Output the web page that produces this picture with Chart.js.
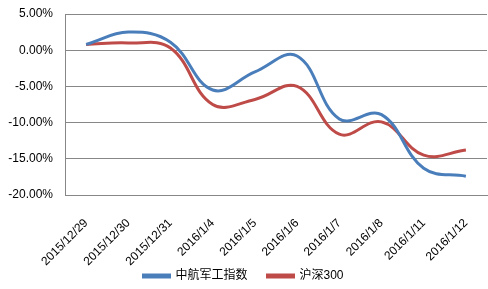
<!DOCTYPE html>
<html>
<head>
<meta charset="utf-8">
<script src="https://cdn.jsdelivr.net/npm/chart.js@4/dist/chart.umd.min.js"></script>
<style>
html,body{margin:0;padding:0;background:#fff;}
#wrap{width:488px;height:289px;position:relative;}
</style>
</head>
<body>
<div id="wrap"><canvas id="c" width="488" height="289"></canvas></div>
<script>
const categories = ['2015/12/29','2015/12/30','2015/12/31','2016/1/4','2016/1/5','2016/1/6','2016/1/7','2016/1/8','2016/1/11','2016/1/12'];
const avicMilitary = [0.8, 2.5, 1.1, -5.5, -3.0, -0.8, -9.5, -8.9, -16.3, -17.4];
const csi300 = [0.8, 1.0, 0.3, -7.5, -6.8, -5.0, -11.6, -9.9, -14.5, -13.8];
const yTicks = [5, 0, -5, -10, -15, -20];

const FONT = "'Liberation Sans', Arial, 'Noto Sans CJK SC', sans-serif";
Chart.defaults.font.family = FONT;
Chart.defaults.color = '#000';

new Chart(document.getElementById('c'), {
  type: 'line',
  data: {
    labels: categories,
    datasets: [
      {label: '中航军工指数', data: avicMilitary, borderColor: '#4A7EBB', backgroundColor: '#4A7EBB', borderWidth: 3, pointRadius: 0, tension: 0.4, fill: false},
      {label: '沪深300', data: csi300, borderColor: '#BE4B48', backgroundColor: '#BE4B48', borderWidth: 3, pointRadius: 0, tension: 0.4, fill: false}
    ]
  },
  options: {
    responsive: false,
    animation: false,
    layout: {padding: {top: 14, right: 1, left: 0, bottom: 0}},
    plugins: {
      tooltip: {enabled: false},
      legend: {
        position: 'bottom',
        maxHeight: 39,
        labels: {boxWidth: 26, boxHeight: 2, padding: 20, font: {size: 12, family: FONT}, color: '#000'}
      }
    },
    scales: {
      x: {
        offset: true,
        grid: {display: false, drawTicks: false},
        border: {display: true, color: '#878787'},
        ticks: {minRotation: 45, maxRotation: 45, autoSkip: false, padding: 21, font: {size: 12}},
        afterFit: (s) => {
          s.height = 55; s.paddingLeft = 0; s.paddingRight = 0; s.paddingTop = 0; s.paddingBottom = 0;
          s._computeLabelArea = () => undefined;
        }
      },
      y: {
        min: -20, max: 5,
        afterBuildTicks: (s) => { s.ticks = yTicks.map(v => ({value: v})); },
        grid: {color: '#878787', drawTicks: false},
        border: {display: true, color: '#878787'},
        ticks: {padding: 12, font: {size: 12}, callback: (v) => v.toFixed(2) + '%'},
        afterFit: (s) => { s.width = 65; s.paddingTop = 0; s.paddingBottom = 0; s.paddingLeft = 0; s.paddingRight = 0; }
      }
    }
  }
});
</script>
</body>
</html>
